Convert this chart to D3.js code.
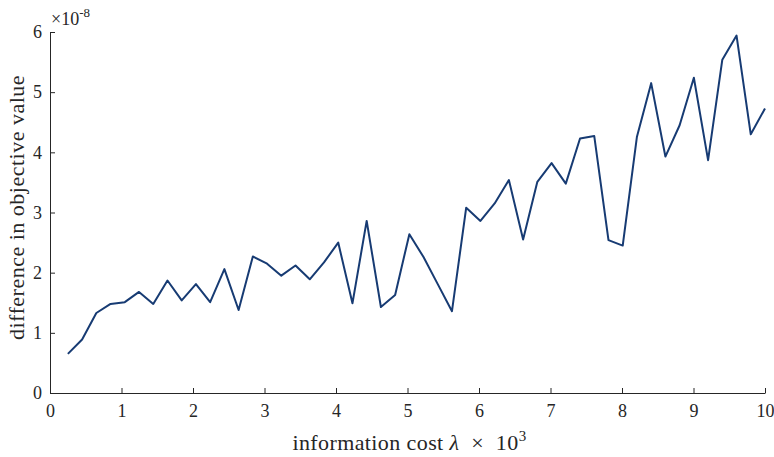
<!DOCTYPE html>
<html lang="en">
<head>
    <meta charset="UTF-8">
    <title>Difference in objective value</title>
    <script src="https://d3js.org/d3.v7.min.js"></script>
    <style>
        body { margin: 0; background: #fff; }
        svg text { font-family: "Liberation Serif", "DejaVu Serif", serif; fill: #262626; }
    </style>
</head>
<body>
    <div id="chart"></div>
    <script>
        // information cost lambda x 10^3
        const lambdaVals = [0.25, 0.449, 0.648, 0.847, 1.046, 1.245, 1.444, 1.643, 1.842, 2.041,
            2.240, 2.439, 2.638, 2.837, 3.036, 3.235, 3.434, 3.633, 3.832, 4.031,
            4.230, 4.429, 4.628, 4.827, 5.026, 5.224, 5.423, 5.622, 5.821, 6.020,
            6.219, 6.418, 6.617, 6.816, 7.015, 7.214, 7.413, 7.612, 7.811, 8.010,
            8.209, 8.408, 8.607, 8.806, 9.005, 9.204, 9.403, 9.602, 9.801, 10.0];
        // difference in objective value (x 1e-8)
        const diffVals = [0.65, 0.89, 1.33, 1.48, 1.51, 1.68, 1.48, 1.87, 1.54, 1.81,
            1.51, 2.06, 1.38, 2.27, 2.15, 1.95, 2.12, 1.89, 2.17, 2.50,
            1.49, 2.86, 1.43, 1.63, 2.64, 2.26, 1.81, 1.36, 3.08, 2.86,
            3.15, 3.54, 2.55, 3.51, 3.82, 3.48, 4.23, 4.27, 2.54, 2.45,
            4.26, 5.15, 3.93, 4.45, 5.24, 3.87, 5.54, 5.94, 4.30, 4.73];
        const xTicks = [0, 1, 2, 3, 4, 5, 6, 7, 8, 9, 10];
        const yTicks = [0, 1, 2, 3, 4, 5, 6];

        const W = 774, H = 457;
        const margin = { top: 32, right: 9, bottom: 64, left: 50 };
        const width = W - margin.left - margin.right;
        const height = H - margin.top - margin.bottom;

        const svg = d3.select("#chart").append("svg")
            .attr("width", W)
            .attr("height", H);

        const g = svg.append("g")
            .attr("transform", `translate(${margin.left},${margin.top})`);

        const x = d3.scaleLinear().domain([0, 10]).range([0, width]);
        const y = d3.scaleLinear().domain([0, 6]).range([height, 0]);

        // axes, ticks pointing inward
        const xAxis = g.append("g")
            .attr("transform", `translate(0,${height})`)
            .call(d3.axisBottom(x).tickValues(xTicks).tickFormat(d3.format("d"))
                .tickSize(-5).tickPadding(11).tickSizeOuter(0));
        const yAxis = g.append("g")
            .call(d3.axisLeft(y).tickValues(yTicks).tickFormat(d3.format("d"))
                .tickSize(-5).tickPadding(8).tickSizeOuter(0));

        [xAxis, yAxis].forEach(a => {
            a.select(".domain").attr("stroke", "#262626").attr("stroke-width", 1);
            a.selectAll(".tick line").attr("stroke", "#262626");
            a.selectAll(".tick text").style("font-size", "18px").attr("fill", "#262626");
        });

        // line
        const pts = lambdaVals.map((v, i) => [v, diffVals[i]]);
        g.append("path")
            .datum(pts)
            .attr("fill", "none")
            .attr("stroke", "#173b73")
            .attr("stroke-width", 2)
            .attr("stroke-linejoin", "round")
            .attr("d", d3.line().x(d => x(d[0])).y(d => y(d[1])));

        // exponent label
        const ex = svg.append("text")
            .attr("x", margin.left + 1)
            .attr("y", 25)
            .style("font-size", "18px");
        ex.append("tspan").text("×10");
        ex.append("tspan").attr("dy", -8).style("font-size", "13px").text("-8");

        // x label
        const xl = svg.append("text")
            .attr("x", margin.left + width / 2 + 2)
            .attr("y", 450)
            .attr("text-anchor", "middle")
            .style("font-size", "22px")
            .style("letter-spacing", "0.4px");
        xl.append("tspan").text("information cost ");
        xl.append("tspan").style("font-style", "italic").text("λ");
        xl.append("tspan").text(" \u00a0×\u00a0 10");
        xl.append("tspan").attr("dy", -9).style("font-size", "15px").text("3");

        // y label
        svg.append("text")
            .attr("transform", `translate(24,${margin.top + height / 2 - 5}) rotate(-90)`)
            .attr("text-anchor", "middle")
            .style("font-size", "22px")
            .style("letter-spacing", "0.5px")
            .text("difference in objective value");
    </script>
</body>
</html>
